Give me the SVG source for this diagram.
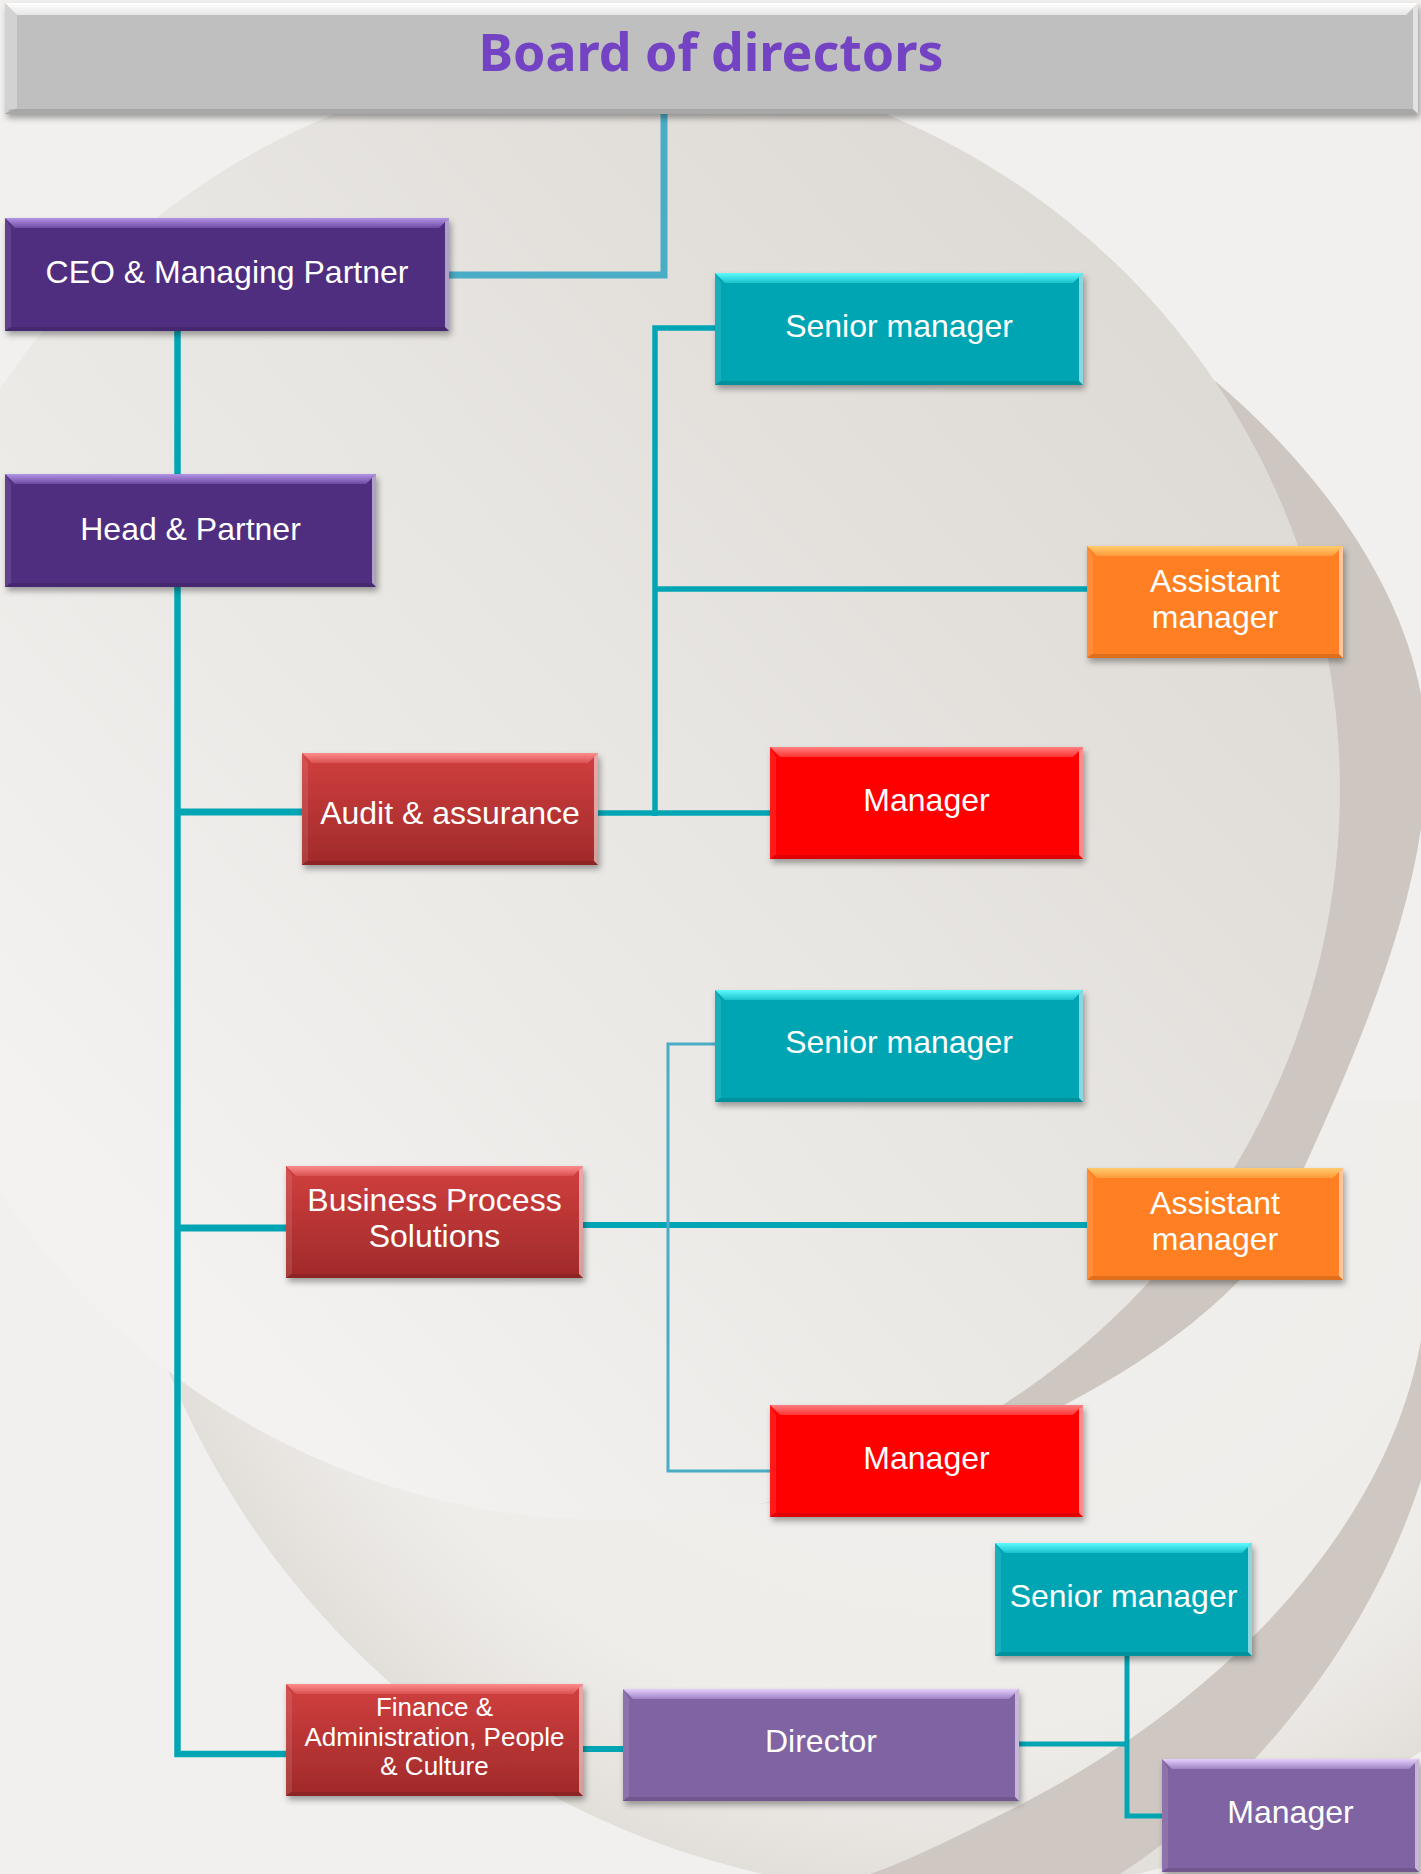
<svg xmlns="http://www.w3.org/2000/svg" width="1421" height="1874" viewBox="0 0 1421 1874">
<defs>
<linearGradient id="gA" gradientUnits="userSpaceOnUse" x1="200" y1="1300" x2="1300" y2="300">
<stop offset="0" stop-color="#F3F2F0"/><stop offset="1" stop-color="#DCD8D3"/>
</linearGradient>
<radialGradient id="gB" gradientUnits="userSpaceOnUse" cx="950" cy="1050" r="845">
<stop offset="0" stop-color="#F1F0EE"/><stop offset="0.8" stop-color="#EFEDEA"/><stop offset="0.93" stop-color="#E8E5E1"/><stop offset="1" stop-color="#E2DED9"/>
</radialGradient>
<clipPath id="clipB"><rect x="0" y="1100" width="1421" height="774"/></clipPath>
<filter id="sh" x="-10%" y="-20%" width="125%" height="150%">
<feDropShadow dx="2" dy="4" stdDeviation="3" flood-color="#000" flood-opacity="0.35"/>
</filter>
<linearGradient id="tPurple" x1="0" y1="0" x2="0" y2="1"><stop offset="0" stop-color="#B394E6"/><stop offset="1" stop-color="#6E4BA3"/></linearGradient>
<linearGradient id="tLPurple" x1="0" y1="0" x2="0" y2="1"><stop offset="0" stop-color="#E6CFFF"/><stop offset="1" stop-color="#9E83C2"/></linearGradient>
<linearGradient id="tTeal" x1="0" y1="0" x2="0" y2="1"><stop offset="0" stop-color="#5CFBFF"/><stop offset="1" stop-color="#1AC2CC"/></linearGradient>
<linearGradient id="tOrange" x1="0" y1="0" x2="0" y2="1"><stop offset="0" stop-color="#FFCC6E"/><stop offset="1" stop-color="#FF9A3A"/></linearGradient>
<linearGradient id="tRed" x1="0" y1="0" x2="0" y2="1"><stop offset="0" stop-color="#FF8080"/><stop offset="1" stop-color="#FF3434"/></linearGradient>
<linearGradient id="tDRed" x1="0" y1="0" x2="0" y2="1"><stop offset="0" stop-color="#FF8C8C"/><stop offset="1" stop-color="#D95252"/></linearGradient>
<linearGradient id="tGrey" x1="0" y1="0" x2="0" y2="1"><stop offset="0" stop-color="#FFFFFF"/><stop offset="1" stop-color="#E6E6E6"/></linearGradient>
<linearGradient id="bDRed" x1="0" y1="0" x2="0" y2="1"><stop offset="0" stop-color="#D13F3F"/><stop offset="1" stop-color="#A02A2A"/></linearGradient>
<style>
.b{filter:url(#sh)}
.l{fill:#fff;fill-opacity:.1}
.r{fill:#fff;fill-opacity:.55}
.bt{fill:#000;fill-opacity:.12}
.purple .b{fill:#4F2D7F} .purple .t{fill:url(#tPurple)}
.lpurple .b{fill:#8064A2} .lpurple .t{fill:url(#tLPurple)}
.teal .b{fill:#00A5B3} .teal .t{fill:url(#tTeal)}
.orange .b{fill:#FF7F22} .orange .t{fill:url(#tOrange)}
.red .b{fill:#FF0000} .red .t{fill:url(#tRed)}
.dred .b{fill:url(#bDRed)} .dred .t{fill:url(#tDRed)}
.grey .b{fill:#BFBFBF} .grey .t{fill:url(#tGrey)} .grey .l{fill-opacity:.3}
.lbl{font-family:"Liberation Sans",Arial,sans-serif;font-size:32px;fill:#fff;text-anchor:middle}
.sm{font-size:26px}
.title{font-family:"Noto Sans","Liberation Sans",sans-serif;font-size:52px;font-weight:700;fill:#7443C4;text-anchor:middle}
.cn{fill:none;stroke:#02A5B4;stroke-linejoin:miter}
.cl{fill:none;stroke:#4BACC6;stroke-linejoin:miter}
</style>
</defs>

<g id="background">
<rect x="0" y="0" width="1421" height="1874" fill="#F1F0EE"/>
<circle cx="950" cy="1050" r="845" fill="url(#gB)" clip-path="url(#clipB)"/>
<circle cx="610" cy="790" r="730" fill="url(#gA)"/>
<path fill="#CEC7C1" d="M1214,380 C1320,470 1410,590 1425,720 C1440,880 1350,1070 1266,1250 C1180,1360 980,1470 760,1504 A730,730 0 0 0 1214,380 Z"/>
<path fill="#CFC8C2" d="M1421,1340 C1390,1520 1230,1700 1010,1810 C950,1840 910,1860 870,1874 L1120,1874 C1250,1790 1370,1640 1421,1480 Z"/>
</g>

<g id="connectors">
<path class="cl" stroke-width="7" d="M664,114 V275 H449"/>
<path class="cn" stroke-width="6.5" d="M177.5,331 V474 M177.5,587 V1754 H286"/>
<path class="cn" stroke-width="7" d="M177,812 H302"/>
<path class="cn" stroke-width="7" d="M177,1228 H286"/>
<path class="cn" stroke-width="5.5" d="M715,328 H655 V816 M598,813 H770 M655,589 H1087"/>
<path class="cn" stroke-width="6" d="M583,1225 H1087"/>
<path class="cl" stroke-width="3" d="M715,1044 H668 V1471 H770"/>
<path class="cn" stroke-width="6" d="M583,1749 H623"/>
<path class="cn" stroke-width="5" d="M1019,1744 H1127 M1127,1656 V1816 H1162"/>
</g>

<g id="board" class="grey">
<rect class="b" x="5" y="3" width="1413" height="111"/>
<path class="t" d="M5,3 H1418 L1406,15 H17 Z"/>
<path class="l" d="M5,3 L17,15 V108 L5,114 Z"/>
<path class="r" d="M1418,3 V114 L1413,109 V8 Z"/>
<path class="bt" d="M5,114 H1418 L1413,109 H10 Z"/>
<text class="title" x="711" y="71" textLength="465" lengthAdjust="spacingAndGlyphs">Board of directors</text>
</g>

<g id="ceo" class="purple">
<rect class="b" x="5" y="218" width="444" height="113"/>
<path class="t" d="M5,218 H449 L439,228 H15 Z"/>
<path class="l" d="M5,218 L11,228 V327 L5,331 Z"/>
<path class="r" d="M449,218 V331 L445,327 V222 Z"/>
<path class="bt" d="M5,331 H449 L445,327 H9 Z"/>
<text class="lbl" x="227" y="283">CEO &amp; Managing Partner</text>
</g>

<g id="head" class="purple">
<rect class="b" x="5" y="474" width="371" height="113"/>
<path class="t" d="M5,474 H376 L366,484 H15 Z"/>
<path class="l" d="M5,474 L11,484 V583 L5,587 Z"/>
<path class="r" d="M376,474 V587 L372,583 V478 Z"/>
<path class="bt" d="M5,587 H376 L372,583 H9 Z"/>
<text class="lbl" x="190.5" y="540">Head &amp; Partner</text>
</g>

<g id="audit" class="dred">
<rect class="b" x="302" y="753" width="296" height="112"/>
<path class="t" d="M302,753 H598 L588,763 H312 Z"/>
<path class="l" d="M302,753 L308,763 V861 L302,865 Z"/>
<path class="r" d="M598,753 V865 L594,861 V757 Z"/>
<path class="bt" d="M302,865 H598 L594,861 H306 Z"/>
<text class="lbl" x="450" y="824">Audit &amp; assurance</text>
</g>

<g id="audit-senior" class="teal">
<rect class="b" x="715" y="273" width="368" height="112"/>
<path class="t" d="M715,273 H1083 L1073,283 H725 Z"/>
<path class="l" d="M715,273 L721,283 V381 L715,385 Z"/>
<path class="r" d="M1083,273 V385 L1079,381 V277 Z"/>
<path class="bt" d="M715,385 H1083 L1079,381 H719 Z"/>
<text class="lbl" x="899" y="337">Senior manager</text>
</g>

<g id="audit-assistant" class="orange">
<rect class="b" x="1087" y="546" width="256" height="112"/>
<path class="t" d="M1087,546 H1343 L1333,556 H1097 Z"/>
<path class="l" d="M1087,546 L1093,556 V654 L1087,658 Z"/>
<path class="r" d="M1343,546 V658 L1339,654 V550 Z"/>
<path class="bt" d="M1087,658 H1343 L1339,654 H1091 Z"/>
<text class="lbl" x="1215" y="592">Assistant<tspan x="1215" dy="36">manager</tspan></text>
</g>

<g id="audit-manager" class="red">
<rect class="b" x="770" y="747" width="313" height="112"/>
<path class="t" d="M770,747 H1083 L1073,757 H780 Z"/>
<path class="l" d="M770,747 L776,757 V855 L770,859 Z"/>
<path class="r" d="M1083,747 V859 L1079,855 V751 Z"/>
<path class="bt" d="M770,859 H1083 L1079,855 H774 Z"/>
<text class="lbl" x="926.5" y="811">Manager</text>
</g>

<g id="bps" class="dred">
<rect class="b" x="286" y="1166" width="297" height="112"/>
<path class="t" d="M286,1166 H583 L573,1176 H296 Z"/>
<path class="l" d="M286,1166 L292,1176 V1274 L286,1278 Z"/>
<path class="r" d="M583,1166 V1278 L579,1274 V1170 Z"/>
<path class="bt" d="M286,1278 H583 L579,1274 H290 Z"/>
<text class="lbl" x="434.5" y="1211">Business Process<tspan x="434.5" dy="36">Solutions</tspan></text>
</g>

<g id="bps-senior" class="teal">
<rect class="b" x="715" y="990" width="368" height="112"/>
<path class="t" d="M715,990 H1083 L1073,1000 H725 Z"/>
<path class="l" d="M715,990 L721,1000 V1098 L715,1102 Z"/>
<path class="r" d="M1083,990 V1102 L1079,1098 V994 Z"/>
<path class="bt" d="M715,1102 H1083 L1079,1098 H719 Z"/>
<text class="lbl" x="899" y="1053">Senior manager</text>
</g>

<g id="bps-assistant" class="orange">
<rect class="b" x="1087" y="1168" width="256" height="112"/>
<path class="t" d="M1087,1168 H1343 L1333,1178 H1097 Z"/>
<path class="l" d="M1087,1168 L1093,1178 V1276 L1087,1280 Z"/>
<path class="r" d="M1343,1168 V1280 L1339,1276 V1172 Z"/>
<path class="bt" d="M1087,1280 H1343 L1339,1276 H1091 Z"/>
<text class="lbl" x="1215" y="1214">Assistant<tspan x="1215" dy="36">manager</tspan></text>
</g>

<g id="bps-manager" class="red">
<rect class="b" x="770" y="1405" width="313" height="112"/>
<path class="t" d="M770,1405 H1083 L1073,1415 H780 Z"/>
<path class="l" d="M770,1405 L776,1415 V1513 L770,1517 Z"/>
<path class="r" d="M1083,1405 V1517 L1079,1513 V1409 Z"/>
<path class="bt" d="M770,1517 H1083 L1079,1513 H774 Z"/>
<text class="lbl" x="926.5" y="1469">Manager</text>
</g>

<g id="fapc" class="dred">
<rect class="b" x="286" y="1684" width="297" height="112"/>
<path class="t" d="M286,1684 H583 L573,1694 H296 Z"/>
<path class="l" d="M286,1684 L292,1694 V1792 L286,1796 Z"/>
<path class="r" d="M583,1684 V1796 L579,1792 V1688 Z"/>
<path class="bt" d="M286,1796 H583 L579,1792 H290 Z"/>
<text class="lbl sm" x="434.5" y="1716">Finance &amp;<tspan x="434.5" dy="29.5">Administration, People</tspan><tspan x="434.5" dy="29.5">&amp; Culture</tspan></text>
</g>

<g id="director" class="lpurple">
<rect class="b" x="623" y="1689" width="396" height="112"/>
<path class="t" d="M623,1689 H1019 L1009,1699 H633 Z"/>
<path class="l" d="M623,1689 L629,1699 V1797 L623,1801 Z"/>
<path class="r" d="M1019,1689 V1801 L1015,1797 V1693 Z"/>
<path class="bt" d="M623,1801 H1019 L1015,1797 H627 Z"/>
<text class="lbl" x="821" y="1752">Director</text>
</g>

<g id="fapc-senior" class="teal">
<rect class="b" x="995" y="1543" width="257" height="113"/>
<path class="t" d="M995,1543 H1252 L1242,1553 H1005 Z"/>
<path class="l" d="M995,1543 L1001,1553 V1652 L995,1656 Z"/>
<path class="r" d="M1252,1543 V1656 L1248,1652 V1547 Z"/>
<path class="bt" d="M995,1656 H1252 L1248,1652 H999 Z"/>
<text class="lbl" x="1123.5" y="1607">Senior manager</text>
</g>

<g id="fapc-manager" class="lpurple">
<rect class="b" x="1162" y="1759" width="257" height="113"/>
<path class="t" d="M1162,1759 H1419 L1409,1769 H1172 Z"/>
<path class="l" d="M1162,1759 L1168,1769 V1868 L1162,1872 Z"/>
<path class="r" d="M1419,1759 V1872 L1415,1868 V1763 Z"/>
<path class="bt" d="M1162,1872 H1419 L1415,1868 H1166 Z"/>
<text class="lbl" x="1290.5" y="1823">Manager</text>
</g>
</svg>
